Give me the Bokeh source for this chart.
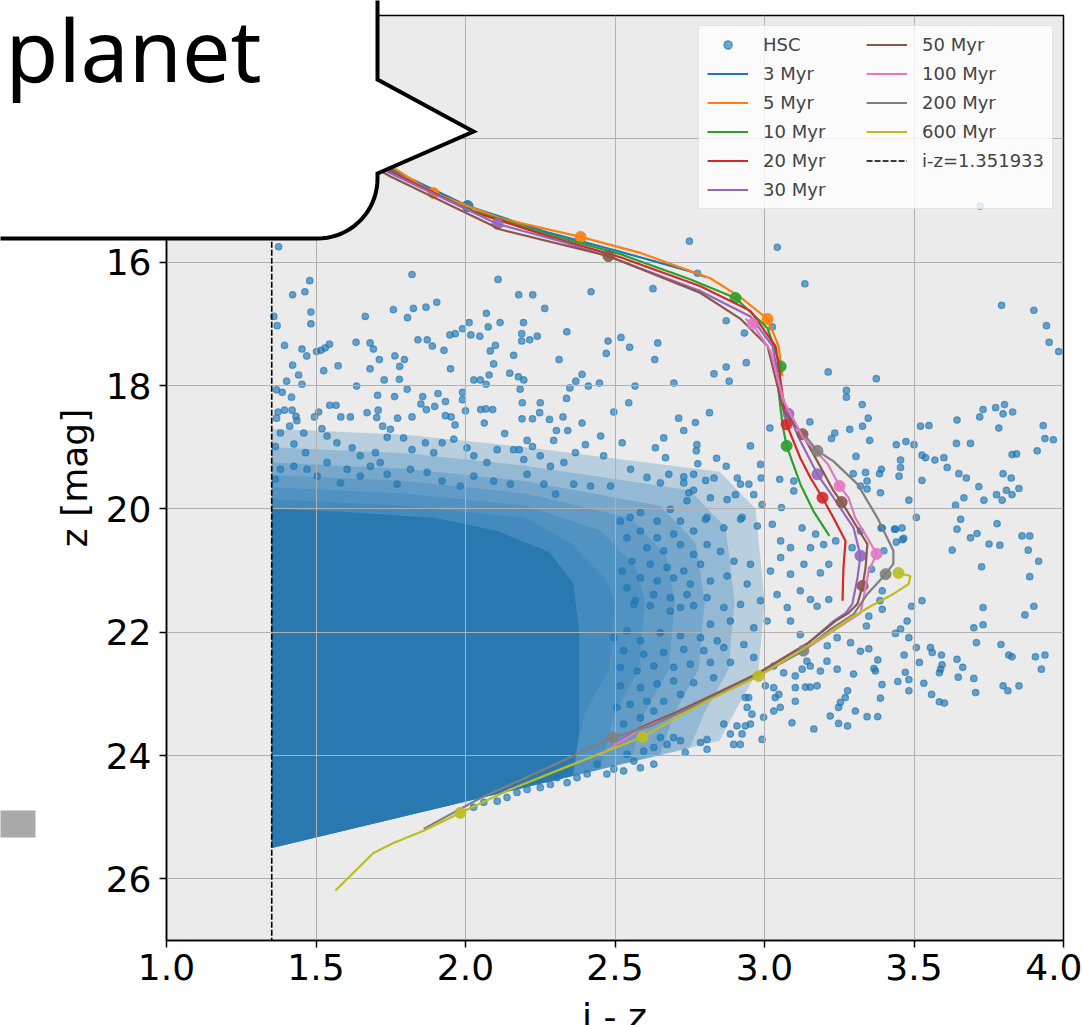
import numpy as np
from bokeh.plotting import figure
from bokeh.layouts import column
from bokeh.models import (Range1d, FixedTicker, PrintfTickFormatter, Legend, LegendItem)
from bokeh.core.properties import value
from bokeh.embed import file_html
from bokeh.resources import INLINE

# ---------------- data ----------------
x_ticks = [1.0, 1.5, 2.0, 2.5, 3.0, 3.5, 4.0]
z_ticks = [12, 14, 16, 18, 20, 22, 24, 26]
ic_cut = 1.351933

# density layers of the crowded HSC cloud (outlines)
hsc_layer_x = [
    [1.352, 1.8, 2.2, 2.85, 2.97, 3.0, 2.98, 2.9, 2.85, 2.05, 1.352],
    [1.352, 1.8, 2.2, 2.75, 2.87, 2.9, 2.88, 2.8, 2.75, 2.05, 1.352],
    [1.352, 1.8, 2.2, 2.65, 2.77, 2.8, 2.78, 2.7, 2.65, 2.05, 1.352],
    [1.352, 1.8, 2.2, 2.55, 2.67, 2.7, 2.68, 2.6, 2.55, 2.05, 1.352],
    [1.352, 1.8, 2.2, 2.45, 2.57, 2.6, 2.58, 2.5, 2.45, 2.05, 1.352],
    [1.352, 1.8, 2.2, 2.35, 2.47, 2.5, 2.48, 2.4, 2.35, 2.05, 1.352],
]
hsc_layer_z = [
    [18.7, 18.8, 19.0, 19.4, 20.0, 21.5, 22.6, 23.3, 23.76, 24.69, 25.50],
    [19.0, 19.1, 19.3, 19.7, 20.3, 21.5, 22.6, 23.3, 23.88, 24.69, 25.50],
    [19.25, 19.35, 19.55, 19.95, 20.55, 21.5, 22.6, 23.3, 23.99, 24.69, 25.50],
    [19.45, 19.55, 19.75, 20.15, 20.75, 21.5, 22.6, 23.3, 24.11, 24.69, 25.50],
    [19.65, 19.75, 19.95, 20.35, 20.95, 21.5, 22.6, 23.3, 24.23, 24.69, 25.50],
    [19.85, 19.95, 20.15, 20.55, 21.15, 21.5, 22.6, 23.3, 24.34, 24.69, 25.50],
]
hsc_core_x = [1.352, 1.6, 1.9, 2.1, 2.28, 2.36, 2.38, 2.38, 2.36, 2.05, 1.352]
hsc_core_z = [20.0, 20.05, 20.15, 20.35, 20.7, 21.2, 22.0, 23.6, 24.33, 24.69, 25.50]

# individual HSC sources (i-z, z)
hsc_points = [
    (1.375,15.75),(1.479,16.30),(1.422,16.53),(1.463,16.48),(1.483,16.81),(1.483,17.00),(1.359,16.88),(1.370,17.03),
    (1.821,16.20),(2.109,16.28),(2.178,16.53),(2.225,16.53),(2.420,16.48),(2.627,16.43),(2.265,16.75),(2.070,16.83),
    (2.116,16.98),(2.012,16.98),(1.990,17.08),(1.966,17.16),(1.948,17.18),(2.018,17.18),(2.048,17.20),(2.076,17.05),
    (2.194,16.98),(2.188,17.16),(2.188,17.28),(2.215,17.26),(2.240,17.20),(2.339,17.13),(2.477,17.28),(2.520,17.22),
    (2.549,17.38),(2.643,17.31),(2.471,17.48),(2.633,17.58),(2.313,17.58),(2.161,17.51),(2.100,17.35),(2.083,17.44),
    (2.094,17.65),(2.148,17.80),(2.079,17.83),(2.177,17.86),(2.195,17.91),(2.183,18.06),(2.028,17.91),(2.050,17.91),
    (2.069,17.98),(1.950,17.73),(1.928,17.43),(1.889,17.36),(1.872,17.26),(1.841,17.26),(1.904,16.65),(1.868,16.73),
    (1.826,16.75),(1.806,16.90),(1.759,16.77),(1.665,16.88),(1.634,17.30),(1.681,17.31),(1.692,17.41),(1.712,17.58),
    (1.681,17.73),(1.764,17.52),(1.796,17.58),(1.780,17.69),(1.779,17.90),(1.728,17.91),(1.636,18.01),(1.574,17.68),
    (1.526,17.76),(1.545,17.33),(1.531,17.39),(1.517,17.43),(1.502,17.45),(1.453,17.41),(1.469,17.52),(1.395,17.35),
    (1.422,17.67),(1.442,17.83),(1.402,17.93),(1.453,17.98),(1.368,18.07),(1.387,18.11),(1.418,18.19),(2.390,17.82),
    (2.369,17.93),(2.349,18.04),(2.411,18.01),(2.448,17.96),(2.567,18.01),(2.697,17.96),(2.338,18.21),(2.546,18.28),
    (2.496,18.43),(2.713,18.53),(2.390,18.61),(2.326,18.51),(2.342,18.73),(2.304,18.73),(2.295,18.89),(2.281,18.55),
    (2.248,18.44),(2.224,18.54),(2.189,18.54),(2.250,18.28),(2.190,18.28),(2.131,18.78),(2.206,18.89),(2.224,18.99),
    (2.180,19.04),(2.068,18.38),(2.091,18.39),(2.051,18.39),(2.063,18.61),(2.000,18.41),(1.990,18.23),(1.990,18.11),
    (1.933,18.26),(1.908,18.13),(1.857,18.18),(1.851,18.30),(1.869,18.39),(1.897,18.34),(1.933,18.49),(1.952,18.51),
    (1.965,18.64),(1.821,18.51),(1.773,18.53),(1.763,18.18),(1.706,18.16),(1.805,18.06),(1.708,18.40),(1.671,18.44),
    (1.703,18.52),(1.723,18.66),(1.749,18.71),(1.738,18.84),(1.615,18.51),(1.583,18.51),(1.546,18.32),(1.567,18.32),
    (1.509,18.43),(1.495,18.51),(1.420,18.40),(1.395,18.40),(1.373,18.43),(1.368,18.53),(1.433,18.50),(1.436,18.57),
    (1.412,18.66),
    (1.459,18.77),(1.381,18.77),(1.364,18.99),(1.426,18.95),(1.465,19.09),(1.520,18.70),(1.537,18.82),(1.570,18.93),
    (1.621,19.01),(1.648,19.14),(1.699,19.09),(1.715,19.25),(1.793,18.85),(1.821,19.04),(1.866,18.93),(1.894,19.09),
    (1.922,18.93),(1.961,18.87),(2.005,19.01),(2.028,19.14),(2.072,19.25),(2.106,19.04),(2.161,19.04),(2.195,19.20),
    (2.250,19.14),(2.284,19.31),(2.329,19.25),(2.368,19.09),(2.401,18.96),(2.452,18.82),(2.462,19.14),(2.524,18.93),
    (2.552,19.36),(2.635,19.01),(2.663,18.85),(2.669,19.17),(2.607,19.49),(2.652,19.58),(2.680,19.44),(2.485,19.63),
    (2.418,19.63),(2.362,19.60),(2.301,19.76),(2.262,19.60),(2.206,19.44),(2.150,19.60),(2.094,19.55),(2.028,19.47),
    (1.983,19.63),(1.922,19.55),(1.872,19.41),(1.816,19.36),(1.771,19.60),(1.738,19.44),(1.682,19.31),(1.648,19.47),
    (1.604,19.36),(1.582,19.58),(1.537,19.25),(1.504,19.47),(1.470,19.36),(1.426,19.31),(1.381,19.36),(1.364,19.52),
    (2.749,15.66),(3.043,15.76),(3.722,15.09),(2.776,16.18),
    (3.135,16.35),(2.872,16.95),(2.933,17.15),(3.026,17.05),(2.939,17.63),(2.831,17.81),(2.872,17.70),(2.882,17.93),
    (3.213,17.78),(3.374,17.89),(3.793,16.70),(3.901,16.78),(3.943,17.03),(3.952,17.30),(3.984,17.45),(3.274,18.08),
    (3.274,18.19),(3.327,18.31),(3.347,18.53),(3.328,18.66),(3.285,18.71),(3.235,18.77),(3.224,18.86),(3.152,18.59),
    (3.018,18.69),(2.816,18.44),(2.953,18.98),(2.840,19.18),(2.803,19.54),(2.831,19.50),(2.872,19.31),(2.909,19.50),
    (2.920,19.60),(2.948,19.60),(2.987,19.28),(2.989,19.50),(2.819,19.82),(2.875,19.85),(2.903,19.77),(2.964,19.77),
    (2.992,19.93),(3.051,19.52),(3.098,19.55),(3.098,19.71),(3.057,19.98),(3.306,19.15),(3.352,18.89),(3.441,18.96),
    (3.473,18.91),(3.500,18.96),(3.455,19.21),(3.455,19.33),(3.450,19.47),(3.391,19.36),(3.385,19.43),(3.297,19.43),
    (3.338,19.41),(3.343,19.55),(3.321,19.63),(3.343,19.68),(3.388,19.74),(3.483,19.86),(3.522,18.66),(3.550,18.65),
    (3.527,19.13),(3.539,19.17),(3.570,19.21),(3.600,19.17),(3.611,19.33),(3.527,19.54),(3.644,18.56),(3.642,18.94),
    (3.689,18.94),(3.650,19.43),(3.675,19.50),(3.720,18.51),(3.731,18.39),(3.773,18.36),(3.803,18.31),(3.798,18.46),
    (3.830,18.43),(3.784,18.69),(3.828,19.12),(3.843,19.11),(3.912,19.06),(3.932,18.65),(3.938,18.86),(3.966,18.88),
    (3.798,19.43),(3.825,19.50),(3.851,19.67),(3.809,19.70),(3.776,19.77),(3.795,19.86),(3.828,19.77),(3.717,19.64),
    (3.667,19.82),(3.639,19.94),(3.734,19.86),(3.656,20.17),(3.644,20.33),
    (2.803,20.17),(2.864,20.31),(2.920,20.17),(2.976,20.28),(3.026,20.25),(3.054,20.52),(3.087,20.63),(3.126,20.31),
    (3.154,20.63),(3.171,20.41),(3.198,20.58),(3.238,20.52),(3.293,20.63),(3.321,20.36),(3.394,20.31),(3.438,20.33),
    (3.461,20.50),(2.808,20.58),(2.853,20.69),(2.898,20.85),(2.953,20.90),(3.020,21.01),(3.054,20.79),(3.087,21.06),
    (3.132,20.90),(3.187,21.04),(3.215,20.90),(2.819,21.17),(2.875,21.09),(2.942,21.22),(2.987,21.49),(3.042,21.39),
    (3.076,21.60),(3.120,21.33),(3.154,21.47),(3.176,21.58),(3.215,21.47),(3.394,21.33),(3.349,21.74),(3.394,21.63),
    (3.477,21.82),(3.455,21.95),(3.483,22.09),(3.527,21.49),(2.808,21.44),(2.864,21.60),(2.920,21.55),(2.819,21.87),
    (2.886,21.82),(2.964,21.93),(3.009,21.82),(3.087,21.82),(3.120,22.04),(3.243,22.09),(3.288,22.17),(3.210,22.22),
    (2.842,22.14),(2.931,22.20),
    (3.508,20.14),(3.778,20.24),(3.861,20.44),(3.887,20.44),(3.882,20.67),(3.917,20.85),(3.887,21.10),(3.689,20.47),
    (3.711,20.40),(3.751,20.57),(3.787,20.59),(3.628,20.67),(3.726,20.94),(3.901,21.58),(3.871,21.72),(3.731,21.60),
    (3.700,21.93),(3.731,21.88),(3.709,22.17),(3.492,21.58),(3.438,22.02),(3.386,21.49),(3.341,21.90),(3.508,22.25),
    (3.555,22.25),(3.561,22.33),(3.592,22.37),(3.594,22.53),(3.589,22.60),(3.585,22.66),(3.644,22.44),(3.663,22.57),
    (3.648,22.73),(3.700,22.75),(3.518,22.49),(3.467,22.37),(3.471,22.65),(3.483,22.77),(3.483,22.95),(3.446,22.80),
    (3.533,22.83),(3.559,23.01),(3.585,23.13),(3.602,23.15),(3.706,22.98),(3.791,22.20),(3.817,22.37),(3.828,22.40),
    (3.906,22.40),(3.938,22.37),(3.926,22.60),(3.798,22.87),(3.814,22.95),(3.851,22.87),(3.379,22.45),(3.371,22.63),
    (3.366,22.59),(3.349,22.27),(3.321,22.31),(3.393,22.85),(3.388,23.07),(3.343,23.37),(3.379,23.37),(3.390,20.31),
    (3.435,20.33),(3.460,20.31),(3.441,20.54),(3.466,20.48),(3.399,20.68),(3.358,20.98),
    (3.209,22.47),(3.243,22.60),(3.298,22.68),(3.278,22.95),(3.270,23.06),(3.254,23.14),(3.248,23.22),(3.220,23.36),
    (3.248,23.48),(3.278,23.52),(3.304,23.28),(3.165,23.57),(3.176,22.87),(3.153,22.89),(3.137,22.89),(3.103,22.90),
    (3.103,23.12),(3.103,22.71),(3.126,22.60),(3.153,22.55),(3.142,22.47),(3.187,22.63),(3.064,22.66),(3.031,22.55),
    (3.036,23.06),(3.048,23.01),(3.031,23.28),(3.053,23.22),(3.092,23.47),(2.997,23.38),(2.992,23.74),(2.953,23.49),
    (2.936,23.52),(2.925,23.65),(2.897,23.82),(2.886,23.65),(2.908,23.52),(2.864,23.49),(2.947,23.06),(2.936,23.06),
    (2.942,23.22),(2.958,23.33),(2.919,23.82),(2.808,23.74),(2.786,23.79),(2.808,23.90),(2.735,23.95),(2.719,23.76),
    (2.696,23.71),(2.674,23.82),(2.652,23.71),(2.630,23.87),(2.596,23.93),(2.630,24.14),(2.585,24.20),(2.563,24.09),
    (2.540,23.98),(2.529,24.25),(2.496,24.22),(2.473,24.30),(2.440,24.14),(2.407,24.30),(2.373,24.36),(2.340,24.44),
    (2.306,24.36),(2.284,24.47),(2.250,24.52),(2.206,24.55),(2.172,24.60),(2.139,24.68),(2.106,24.74),(2.061,24.76),
    (2.027,24.84),
    (2.563,21.55),(2.618,21.57),(2.685,21.66),(2.719,21.60),(2.763,21.57),(2.786,22.09),(2.719,22.06),(2.652,22.01),
    (2.585,22.14),(2.540,21.98),(2.496,22.09),(2.864,22.25),(2.797,22.30),(2.730,22.28),(2.663,22.33),(2.596,22.36),
    (2.529,22.30),(2.886,22.49),(2.819,22.49),(2.752,22.52),(2.696,22.57),(2.630,22.55),(2.574,22.63),(2.518,22.57),
    (2.830,22.74),(2.763,22.82),(2.696,22.79),(2.641,22.84),(2.585,22.90),(2.518,22.87),(2.719,23.01),(2.663,23.12),
    (2.607,23.12),(2.551,23.17),(2.507,23.22),(2.585,23.39),(2.529,23.49),(2.630,23.28),(2.964,22.41),(3.003,22.87),
    (3.031,22.90),
    (2.730,18.73),(2.769,18.60),(2.774,18.96),(2.772,19.06),(2.777,19.27),(2.763,19.44),(2.730,19.48),(2.730,19.58),
    (2.747,19.74),(2.763,19.70),(2.741,19.87),
    (2.518,20.20),(2.551,20.14),(2.585,20.06),(2.641,20.20),(2.685,20.01),(2.719,20.20),(2.763,20.36),(2.808,20.14),
    (2.925,20.14),(2.696,20.41),(2.641,20.47),(2.585,20.36),(2.540,20.47),(2.607,20.63),(2.663,20.68),(2.719,20.58),
    (2.763,20.74),(2.786,20.90),(2.730,21.01),(2.674,20.95),(2.618,20.90),(2.557,20.85),(2.524,21.01),(2.585,21.12),
    (2.641,21.17),(2.696,21.12),(2.752,21.22),(2.741,21.39),(2.685,21.44),(2.629,21.39),(2.568,21.49),(2.540,21.28),
]
hsc_x = [pt[0] for pt in hsc_points]
hsc_z = [pt[1] for pt in hsc_points]

# isochrones (i-z, z) and their mass markers
iso_labels = ["3 Myr", "5 Myr", "10 Myr", "20 Myr", "30 Myr", "50 Myr", "100 Myr", "200 Myr", "600 Myr"]
iso_colors = ["#1f77b4", "#ff7f0e", "#2ca02c", "#d62728", "#9467bd", "#8c564b", "#e377c2", "#7f7f7f", "#bcbd22"]

iso_3_x = [1.548, 1.749, 2.007, 2.284, 2.502, 2.753, 2.803]
iso_3_z = [14.04, 14.49, 15.09, 15.53, 15.81, 16.15, 16.24]
iso_5_x = [1.548, 1.749, 1.893, 2.117, 2.385, 2.585, 2.819, 2.920, 3.010, 3.047, 3.060]
iso_5_z = [13.96, 14.44, 14.88, 15.29, 15.59, 15.85, 16.26, 16.57, 16.92, 17.36, 17.85]
iso_10_x = [1.548, 1.749, 2.007, 2.284, 2.518, 2.753, 2.903, 3.010, 3.054, 3.047, 3.060, 3.074, 3.120, 3.164, 3.217]
iso_10_z = [14.01, 14.53, 15.14, 15.56, 15.87, 16.28, 16.58, 17.07, 17.69, 18.09, 18.63, 18.98, 19.60, 20.04, 20.44]
iso_20_x = [1.548, 1.749, 2.017, 2.284, 2.518, 2.786, 2.953, 3.037, 3.060, 3.074, 3.120, 3.154, 3.194, 3.231, 3.271, 3.264, 3.261]
iso_20_z = [14.01, 14.53, 15.17, 15.59, 15.92, 16.39, 16.79, 17.36, 18.14, 18.63, 19.18, 19.50, 19.82, 20.15, 20.52, 20.96, 21.49]
iso_30_x = [1.548, 1.749, 2.107, 2.318, 2.485, 2.786, 2.953, 3.027, 3.054, 3.080, 3.120, 3.177, 3.231, 3.298, 3.321,
            3.311, 3.294, 3.271, 3.231, 3.144, 2.977, 2.809, 2.696, 2.585, 2.518]
iso_30_z = [14.04, 14.56, 15.38, 15.66, 15.92, 16.47, 16.88, 17.36, 18.09, 18.46, 18.90, 19.44, 19.82, 20.31, 20.76,
            21.12, 21.54, 21.69, 21.82, 22.19, 22.68, 23.07, 23.33, 23.55, 23.76]
iso_50_x = [1.548, 1.749, 2.117, 2.478, 2.786, 2.920, 3.010, 3.064, 3.127, 3.177, 3.231, 3.258, 3.311, 3.344, 3.338,
            3.328, 3.311, 3.281, 3.237, 3.147, 2.980, 2.813, 2.699, 2.589, 2.502]
iso_50_z = [14.07, 14.61, 15.47, 15.90, 16.50, 16.92, 17.36, 18.41, 18.79, 19.23, 19.71, 19.89, 20.31, 20.57, 20.96,
            21.25, 21.54, 21.69, 21.82, 22.17, 22.66, 23.05, 23.31, 23.54, 23.84]
iso_100_x = [2.936, 2.960, 3.020, 3.064, 3.130, 3.211, 3.251, 3.281, 3.304, 3.344, 3.375, 3.348, 3.331, 3.321, 3.271,
             3.154, 2.987, 2.819, 2.702, 2.585, 2.452]
iso_100_z = [16.92, 17.00, 17.44, 18.25, 18.85, 19.27, 19.63, 19.82, 20.15, 20.47, 20.73, 21.01, 21.45, 21.69, 21.85,
             22.22, 22.69, 23.08, 23.34, 23.57, 23.99]
iso_200_x = [3.137, 3.177, 3.231, 3.311, 3.378, 3.431, 3.431, 3.405, 3.344, 3.298, 3.221, 3.130, 2.977, 2.786, 2.619,
             2.492, 2.251, 2.050, 1.860]
iso_200_z = [18.82, 19.06, 19.23, 19.60, 20.15, 20.68, 20.89, 21.06, 21.38, 21.71, 21.95, 22.30, 22.71, 23.15, 23.52,
             23.71, 24.25, 24.69, 25.19]
iso_600_x = [3.448, 3.488, 3.482, 3.431, 3.355, 3.288, 3.211, 3.120, 2.980, 2.809, 2.592, 2.361, 2.140, 1.983, 1.860,
             1.759, 1.692, 1.632, 1.565]
iso_600_z = [21.04, 21.09, 21.22, 21.38, 21.58, 21.77, 22.03, 22.30, 22.71, 23.11, 23.70, 24.14, 24.57, 24.93, 25.22,
             25.42, 25.58, 25.87, 26.19]

mk_3_x, mk_3_z = [2.007], [15.09]
mk_5_x, mk_5_z = [1.893, 2.385, 3.010], [14.88, 15.59, 16.92]
mk_10_x, mk_10_z = [2.903, 3.054, 3.074], [16.58, 17.69, 18.98]
mk_20_x, mk_20_z = [3.074, 3.194], [18.63, 19.82]
mk_30_x, mk_30_z = [2.107, 3.080, 3.177, 3.321], [15.38, 18.46, 19.44, 20.76]
mk_50_x, mk_50_z = [2.478, 3.127, 3.258, 3.328], [15.90, 18.79, 19.89, 21.25]
mk_100_x, mk_100_z = [2.960, 3.251, 3.375], [17.00, 19.63, 20.73]
mk_200_x, mk_200_z = [3.177, 3.405, 3.130, 2.492], [19.06, 21.06, 22.30, 23.71]
mk_600_x, mk_600_z = [3.448, 2.980, 2.592, 1.983], [21.04, 22.71, 23.70, 24.93]

iso_x = [iso_3_x, iso_5_x, iso_10_x, iso_20_x, iso_30_x, iso_50_x, iso_100_x, iso_200_x, iso_600_x]
iso_z = [iso_3_z, iso_5_z, iso_10_z, iso_20_z, iso_30_z, iso_50_z, iso_100_z, iso_200_z, iso_600_z]
mk_x = [mk_3_x, mk_5_x, mk_10_x, mk_20_x, mk_30_x, mk_50_x, mk_100_x, mk_200_x, mk_600_x]
mk_z = [mk_3_z, mk_5_z, mk_10_z, mk_20_z, mk_30_z, mk_50_z, mk_100_z, mk_200_z, mk_600_z]

# ---------------- main figure ----------------
W, H = 1082, 1025
p = figure(width=W, height=H, x_range=Range1d(1.0, 4.0), y_range=Range1d(27, 12),
           output_backend="svg", toolbar_location=None,
           min_border_left=166, min_border_right=19, min_border_top=15, min_border_bottom=85)
p.frame_align = False

p.background_fill_color = "#ebebeb"
p.border_fill_color = "white"
p.outline_line_color = "black"
p.outline_line_width = 1.5

p.xaxis.ticker = FixedTicker(ticks=x_ticks)
p.yaxis.ticker = FixedTicker(ticks=z_ticks)
p.xaxis.formatter = PrintfTickFormatter(format="%.1f")
p.yaxis.formatter = PrintfTickFormatter(format="%d")
p.yaxis.major_label_overrides = {12: "", 14: ""}   # hidden under the speech bubble
for ax in (p.xaxis, p.yaxis):
    ax.major_label_text_font = "DejaVu Sans"
    ax.major_label_text_font_size = "36px"
    ax.major_label_text_color = "black"
    ax.axis_line_color = "black"
    ax.axis_line_width = 1.5
    ax.major_tick_line_color = "black"
    ax.major_tick_line_width = 1.5
    ax.major_tick_out = 7
    ax.major_tick_in = 0
    ax.minor_tick_line_color = None
p.xaxis.major_label_standoff = 6
p.yaxis.major_label_standoff = 8
p.yaxis.axis_label = "z [mag]"
p.yaxis.axis_label_text_font = "DejaVu Sans"
p.yaxis.axis_label_text_font_size = "36px"
p.yaxis.axis_label_text_font_style = "normal"
p.yaxis.axis_label_text_color = "black"
p.yaxis.axis_label_standoff = 8

p.grid.grid_line_color = "#b0b0b0"
p.grid.grid_line_width = 1

# HSC sources: density layers, saturated core, then individual points
for lx, lz in zip(hsc_layer_x, hsc_layer_z):
    p.patch(lx, lz, fill_color="#1f77b4", fill_alpha=0.24, line_color=None, level="image")
p.patch(hsc_core_x, hsc_core_z, fill_color="#2a78b0", fill_alpha=1.0, line_color=None, level="image")
r_hsc = p.scatter(hsc_x, hsc_z, size=6.5, fill_color="#1f77b4", fill_alpha=0.65,
                  line_color="#1f77b4", line_alpha=0.65, line_width=1.2, level="image")

items = [LegendItem(label="HSC", renderers=[r_hsc])]
for lab, col, xs, zs, mx, mz in zip(iso_labels, iso_colors, iso_x, iso_z, mk_x, mk_z):
    rl = p.line(xs, zs, line_color=col, line_width=2.2)
    p.scatter(mx, mz, size=11, fill_color=col, line_color=col, fill_alpha=0.9, line_alpha=0.9)
    items.append(LegendItem(label=lab, renderers=[rl]))

r_cut = p.line([ic_cut, ic_cut], [11.0, 28.0], line_color="black", line_width=1.6, line_dash="6 2")
items.append(LegendItem(label="i-z=1.351933", renderers=[r_cut]))

legend = Legend(items=items, location="top_right", ncols=2,
                label_text_font="DejaVu Sans", label_text_font_size="18px",
                glyph_width=41, glyph_height=21, label_height=21, label_width=95, label_standoff=15,
                spacing=8, padding=8, margin=10,
                background_fill_color="white", background_fill_alpha=0.8,
                border_line_color="#cccccc", border_line_width=1)
p.add_layout(legend)

# ---------------- overlay (speech bubble, x title, grey tab) ----------------
ov = figure(width=W, height=H, x_range=Range1d(0, W), y_range=Range1d(H, 0),
            output_backend="svg", toolbar_location=None, min_border=0,
            x_axis_location=None, y_axis_location=None, margin=(-H, 0, 0, 0))
ov.frame_align = False
ov.grid.visible = False
ov.outline_line_color = None
ov.background_fill_color = None
ov.border_fill_color = None

t = np.linspace(0, np.pi / 2, 20)
bub_x = [-20, 377, 377, 473, 377] + list(317 + 60 * np.cos(t)) + [-20]
bub_y = [-20, -20, 79, 131, 173] + list(178 + 60 * np.sin(t)) + [238]
ov.patch(bub_x, bub_y, fill_color="white", fill_alpha=1.0, line_color="black",
         line_width=4, line_join="miter")
ov.text(x=[5], y=[48], text=["planet"], text_font=value("Noto Sans"), text_font_size="86px",
        text_color="black", text_baseline="alphabetic", text_align="left")
ov.text(x=[614], y=[1016], text=["i - z"], text_font=value("DejaVu Sans"), text_font_size="36px",
        text_color="black", text_baseline="alphabetic", text_align="center")
ov.quad(left=[-5], right=[35], top=[810], bottom=[837], fill_color="#aaaaaa", line_color=None)

layout = column(p, ov)
open("out.html", "w").write(file_html(layout, INLINE))
